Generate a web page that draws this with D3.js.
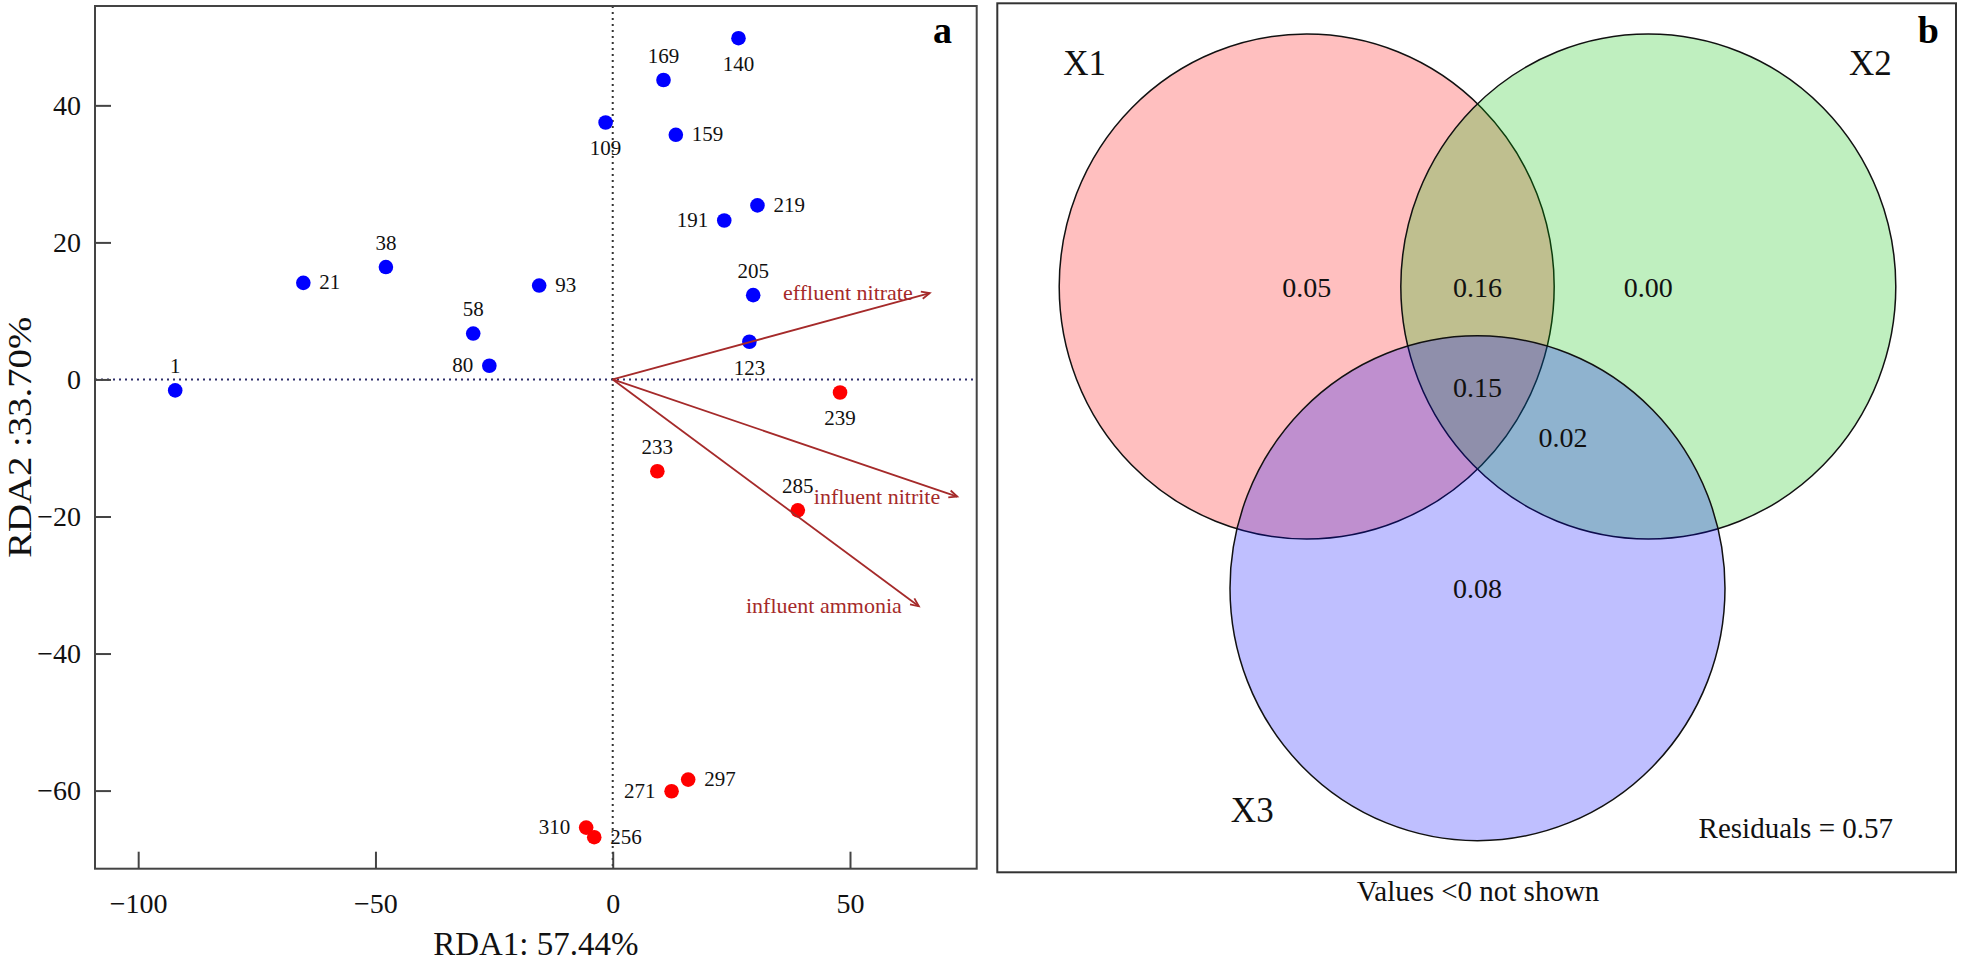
<!DOCTYPE html>
<html>
<head>
<meta charset="utf-8">
<script src="https://cdn.jsdelivr.net/npm/d3@7"></script>
<style>
  body { margin: 0; background: #fff; }
  svg text { font-family: "Liberation Serif", "Times New Roman", serif; }
</style>
</head>
<body>
<svg id="fig" width="1961" height="964"></svg>
<script>
// ---- panel a: RDA biplot ----
var siteNames = ["1", "21", "38", "58", "80", "93", "109", "140", "169", "159", "219",
                 "191", "205", "123", "239", "233", "285", "271", "297", "310", "256"];
var siteRDA1 = [-92.2, -65.2, -47.8, -29.4, -26.0, -15.5, -1.5, 26.5, 10.7, 13.3, 30.5,
                23.5, 29.6, 28.8, 47.9, 9.4, 39.0, 12.4, 15.9, -5.6, -3.9];
var siteRDA2 = [-1.6, 14.1, 16.4, 6.7, 2.0, 13.7, 37.5, 49.8, 43.7, 35.7, 25.4,
                23.2, 12.3, 5.5, -1.9, -13.4, -19.1, -60.1, -58.4, -65.4, -66.8];
var siteGroup = ["blue", "blue", "blue", "blue", "blue", "blue", "blue", "blue", "blue", "blue", "blue",
                 "blue", "blue", "blue", "red", "red", "red", "red", "red", "red", "red"];
var labelSide = ["top", "right", "top", "top", "left", "right", "bottom", "bottom", "top", "right", "right",
                 "left", "top", "bottom", "bottom", "top", "top", "left", "right", "left", "right"];

var envNames = ["effluent nitrate", "influent nitrite", "influent ammonia"];
var envRDA1 = [66.8, 72.6, 64.5];
var envRDA2 = [12.6, -17.1, -33.1];

var xTicks = [-100, -50, 0, 50];
var yTicks = [-60, -40, -20, 0, 20, 40];
var xTitle = "RDA1: 57.44%";
var yTitle = "RDA2 :33.70%";

// ---- panel b: variation partitioning ----
var vennSets = ["X1", "X2", "X3"];
var partMembers = [[0], [1], [2], [0, 1], [1, 2], [0, 2], [0, 1, 2]];
var partValues = [0.05, 0.00, 0.08, 0.16, 0.02, null, 0.15];   // null = negative, not shown
var residual = 0.57;
var vennNote = "Values <0 not shown";

var svg = d3.select('#fig');
var DARK = '#444', ARROW = '#a52a2a';

// scales for panel a
var x = d3.scaleLinear().domain([-109.1, 76.7]).range([95, 976.7]);
var y = d3.scaleLinear().domain([-71.4, 54.5]).range([868.7, 6]);

var a = svg.append('g');

// zero lines
a.append('line').attr('x1', x.range()[0]).attr('x2', x.range()[1])
  .attr('y1', y(0)).attr('y2', y(0))
  .attr('stroke', '#2e2e6a').attr('stroke-width', 2).attr('stroke-dasharray', '2,4');
a.append('line').attr('x1', x(0)).attr('x2', x(0))
  .attr('y1', y.range()[1]).attr('y2', y.range()[0])
  .attr('stroke', '#333').attr('stroke-width', 2).attr('stroke-dasharray', '2,4');

// axes, ticks pointing inward
var gx = a.append('g').attr('transform', 'translate(0,' + y.range()[0] + ')')
  .call(d3.axisBottom(x).tickValues(xTicks).tickSizeInner(-17).tickSizeOuter(0).tickPadding(24));
var gy = a.append('g').attr('transform', 'translate(' + x.range()[0] + ',0)')
  .call(d3.axisLeft(y).tickValues(yTicks).tickSizeInner(-16).tickSizeOuter(0).tickPadding(14));
[gx, gy].forEach(function(g) {
  g.select('.domain').remove();
  g.selectAll('.tick line').attr('stroke', DARK).attr('stroke-width', 2);
  g.selectAll('.tick text').attr('fill', '#111').attr('font-size', 28)
    .style('font-family', '"Liberation Serif", "Times New Roman", serif');
});

// frame
a.append('rect').attr('x', x.range()[0]).attr('y', y.range()[1])
  .attr('width', x.range()[1] - x.range()[0]).attr('height', y.range()[0] - y.range()[1])
  .attr('fill', 'none').attr('stroke', DARK).attr('stroke-width', 2);

// sites
var sites = siteNames.map(function(n, i) {
  return { name: n, x: siteRDA1[i], y: siteRDA2[i], group: siteGroup[i], side: labelSide[i] };
});
a.selectAll('circle.site').data(sites).enter().append('circle')
  .attr('class', 'site')
  .attr('cx', function(d) { return x(d.x); })
  .attr('cy', function(d) { return y(d.y); })
  .attr('r', 7.3)
  .attr('fill', function(d) { return d.group === 'red' ? '#ff0000' : '#0000ff'; });

a.selectAll('text.site').data(sites).enter().append('text')
  .attr('class', 'site')
  .attr('font-size', 21).attr('fill', '#111')
  .attr('x', function(d) {
    if (d.side === 'right') return x(d.x) + 16;
    if (d.side === 'left') return x(d.x) - 16;
    return x(d.x);
  })
  .attr('y', function(d) {
    if (d.side === 'top') return y(d.y) - 17.5;
    if (d.side === 'bottom') return y(d.y) + 33;
    return y(d.y) + 6.5;
  })
  .attr('text-anchor', function(d) {
    if (d.side === 'right') return 'start';
    if (d.side === 'left') return 'end';
    return 'middle';
  })
  .text(function(d) { return d.name; });

// environmental arrows
var env = envNames.map(function(n, i) { return { name: n, x: envRDA1[i], y: envRDA2[i] }; });
var arrows = a.selectAll('g.env').data(env).enter().append('g').attr('class', 'env');
arrows.append('line')
  .attr('x1', x(0)).attr('y1', y(0))
  .attr('x2', function(d) { return x(d.x); })
  .attr('y2', function(d) { return y(d.y); })
  .attr('stroke', ARROW).attr('stroke-width', 1.8);
arrows.append('path')
  .attr('d', function(d) {
    var tx = x(d.x), ty = y(d.y);
    var ang = Math.atan2(ty - y(0), tx - x(0)), len = 9, spread = 0.42;
    var p1 = [tx - len * Math.cos(ang - spread), ty - len * Math.sin(ang - spread)];
    var p2 = [tx - len * Math.cos(ang + spread), ty - len * Math.sin(ang + spread)];
    return 'M' + p1 + 'L' + tx + ',' + ty + 'L' + p2;
  })
  .attr('fill', 'none').attr('stroke', ARROW).attr('stroke-width', 1.8);
arrows.append('text')
  .attr('x', function(d) { return x(d.x) - 17; })
  .attr('y', function(d) { return y(d.y) + 7; })
  .attr('text-anchor', 'end').attr('font-size', 22).attr('fill', ARROW)
  .text(function(d) { return d.name; });

// titles
a.append('text').attr('x', (x.range()[0] + x.range()[1]) / 2).attr('y', 955)
  .attr('text-anchor', 'middle').attr('font-size', 33).attr('fill', '#111').text(xTitle);
a.append('text')
  .attr('transform', 'translate(31,' + (y.range()[0] + y.range()[1]) / 2 + ') rotate(-90)')
  .attr('text-anchor', 'middle').attr('font-size', 34).attr('fill', '#111')
  .attr('textLength', 241).attr('lengthAdjust', 'spacingAndGlyphs')
  .text(yTitle);
a.append('text').attr('x', 952).attr('y', 42.7).attr('text-anchor', 'end')
  .attr('font-size', 38).attr('font-weight', 'bold').text('a');

// ---- panel b ----
var b = svg.append('g');
var vx = d3.scaleLinear().domain([0, 1]).range([1306.7, 1648.3]);
var vy = d3.scaleLinear().domain([0, 1]).range([286.5, 286.5 - 348.4]);
var vr = 0.7245;
var centers = [[0, 0], [1, 0], [0.5, -Math.sqrt(3) / 2]];
var fills = ['#ff0000', '#00c000', '#0000ff'];

b.append('rect').attr('x', 997.3).attr('y', 3.3).attr('width', 958.7).attr('height', 869)
  .attr('fill', 'none').attr('stroke', '#333').attr('stroke-width', 2);

b.selectAll('ellipse').data(vennSets).enter().append('ellipse')
  .attr('cx', function(d, i) { return vx(centers[i][0]); })
  .attr('cy', function(d, i) { return vy(centers[i][1]); })
  .attr('rx', vx(vr) - vx(0))
  .attr('ry', vy(0) - vy(vr))
  .attr('fill', function(d, i) { return fills[i]; })
  .attr('fill-opacity', 0.25)
  .attr('stroke', '#111').attr('stroke-width', 1.5);

var parts = partMembers.map(function(m, i) {
  var cx = d3.mean(m, function(k) { return centers[k][0]; });
  var cy = d3.mean(m, function(k) { return centers[k][1]; });
  return { x: cx, y: cy, v: partValues[i] };
}).filter(function(d) { return d.v !== null && d.v >= 0; });

b.selectAll('text.part').data(parts).enter().append('text')
  .attr('class', 'part')
  .attr('x', function(d) { return vx(d.x); })
  .attr('y', function(d) { return vy(d.y); })
  .attr('dy', '0.36em').attr('text-anchor', 'middle').attr('font-size', 28).attr('fill', '#111')
  .text(function(d) { return d3.format('.2f')(d.v); });

// set names
var setLabelPos = [[-0.713, 0.607, 'start'], [1.713, 0.607, 'end'], [-0.222, -1.537, 'start']];
b.selectAll('text.set').data(vennSets).enter().append('text')
  .attr('class', 'set')
  .attr('x', function(d, i) { return vx(setLabelPos[i][0]); })
  .attr('y', function(d, i) { return vy(setLabelPos[i][1]); })
  .attr('text-anchor', function(d, i) { return setLabelPos[i][2]; })
  .attr('font-size', 35).attr('fill', '#111')
  .text(function(d) { return d; });

b.append('text').attr('x', 1893).attr('y', 838).attr('text-anchor', 'end')
  .attr('font-size', 29).attr('fill', '#111').text('Residuals = ' + d3.format('.2f')(residual));
b.append('text').attr('x', 1478).attr('y', 901).attr('text-anchor', 'middle')
  .attr('font-size', 29).attr('fill', '#111').text(vennNote);
b.append('text').attr('x', 1939).attr('y', 42.7).attr('text-anchor', 'end')
  .attr('font-size', 38).attr('font-weight', 'bold').text('b');
</script>
</body>
</html>
